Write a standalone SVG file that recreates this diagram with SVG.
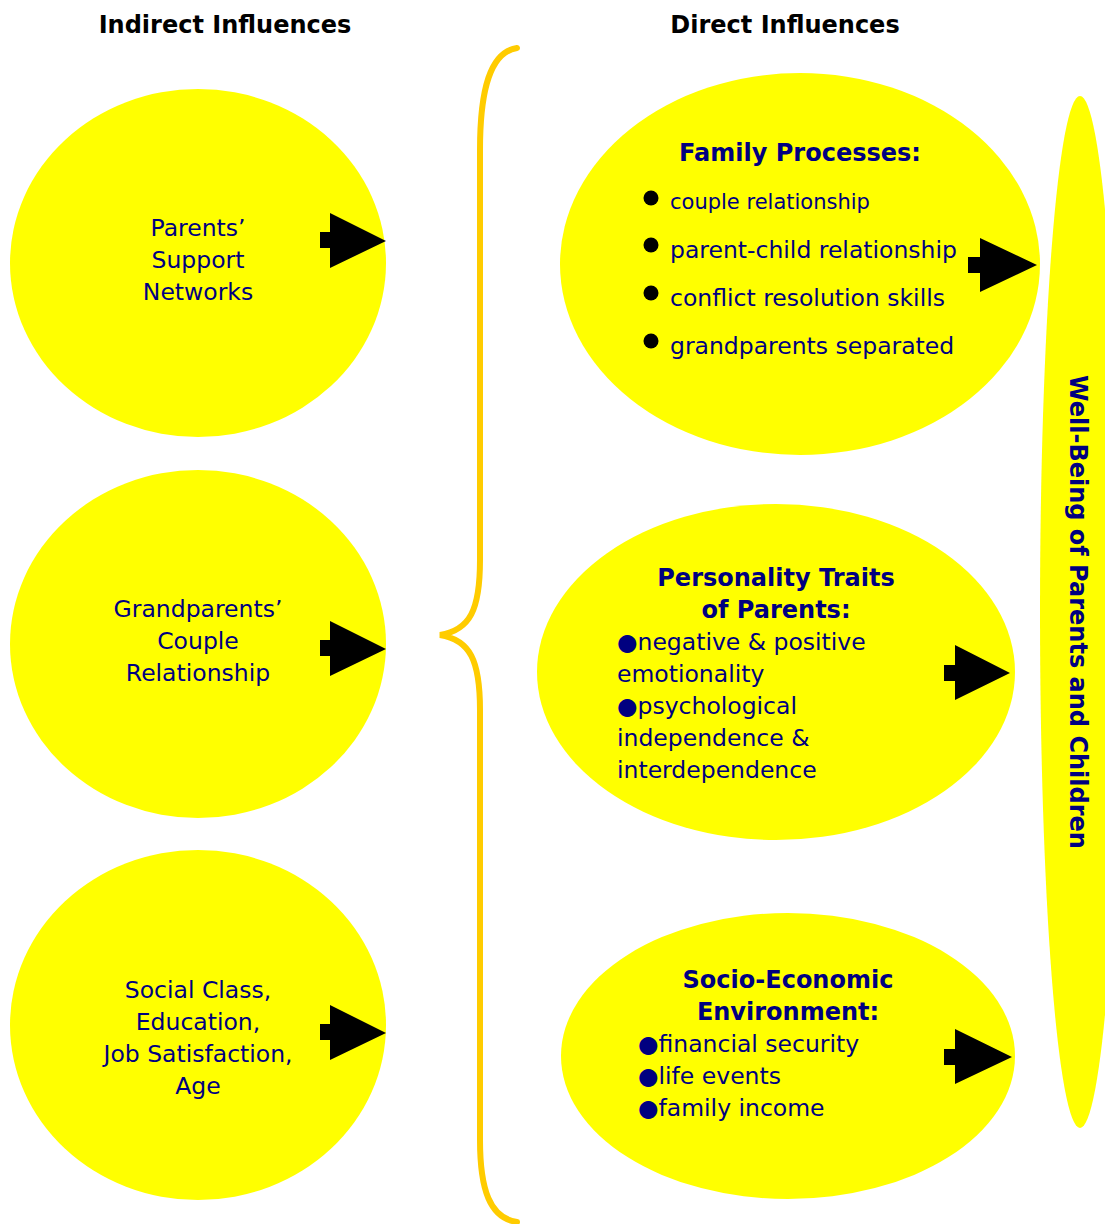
<svg xmlns="http://www.w3.org/2000/svg" width="1105" height="1224" viewBox="0 0 1105 1224">
<style>
.n{fill:#ffff00}
.t{font-family:"DejaVu Sans",Verdana,sans-serif;font-size:23.5px;fill:#000080}
.s{font-size:21px}
.c{text-anchor:middle}
.b{font-weight:bold;font-size:24px}
.h{font-family:"DejaVu Sans",Verdana,sans-serif;font-size:24px;font-weight:bold;fill:#000;text-anchor:middle}
.ar{fill:#000}
</style>
<rect width="1105" height="1224" fill="#fff"/>
<text class="h" x="225" y="33">Indirect Influences</text>
<text class="h" x="785" y="33">Direct Influences</text>

<g id="wellbeing">
<ellipse class="n" cx="1080" cy="612" rx="40" ry="516"/>
<text class="t b c" transform="translate(1070,612) rotate(90)">Well-Being of Parents and Children</text>
</g>

<g id="support">
<ellipse class="n" cx="198" cy="263" rx="188" ry="174"/>
<text class="t c" x="198" y="236">Parents’</text>
<text class="t c" x="198" y="268">Support</text>
<text class="t c" x="198" y="300">Networks</text>
</g>
<g id="grandparents">
<ellipse class="n" cx="198" cy="644" rx="188" ry="174"/>
<text class="t c" x="198" y="617">Grandparents’</text>
<text class="t c" x="198" y="649">Couple</text>
<text class="t c" x="198" y="681">Relationship</text>
</g>
<g id="social">
<ellipse class="n" cx="198" cy="1025" rx="188" ry="175"/>
<text class="t c" x="198" y="998">Social Class,</text>
<text class="t c" x="198" y="1030">Education,</text>
<text class="t c" x="198" y="1062">Job Satisfaction,</text>
<text class="t c" x="198" y="1094">Age</text>
</g>

<g id="family">
<ellipse class="n" cx="800" cy="264" rx="240" ry="191"/>
<text class="t b c" x="800" y="161">Family Processes:</text>
<circle cx="651" cy="198" r="7.5" fill="#000"/>
<circle cx="651" cy="245" r="7.5" fill="#000"/>
<circle cx="651" cy="293" r="7.5" fill="#000"/>
<circle cx="651" cy="341" r="7.5" fill="#000"/>
<text class="t s" x="670" y="209">couple relationship</text>
<text class="t" x="670" y="258">parent-child relationship</text>
<text class="t" x="670" y="306">conflict resolution skills</text>
<text class="t" x="670" y="354">grandparents separated</text>
</g>
<g id="personality">
<ellipse class="n" cx="776" cy="672" rx="239" ry="168"/>
<text class="t b c" x="776" y="586">Personality Traits</text>
<text class="t b c" x="776" y="618">of Parents:</text>
<text class="t" x="617" y="650">●negative &amp; positive</text>
<text class="t" x="617" y="682">emotionality</text>
<text class="t" x="617" y="714">●psychological</text>
<text class="t" x="617" y="746">independence &amp;</text>
<text class="t" x="617" y="778">interdependence</text>
</g>
<g id="socioeconomic">
<ellipse class="n" cx="788" cy="1056" rx="227" ry="143"/>
<text class="t b c" x="788" y="988">Socio-Economic</text>
<text class="t b c" x="788" y="1020">Environment:</text>
<text class="t" x="638" y="1052">●financial security</text>
<text class="t" x="638" y="1084">●life events</text>
<text class="t" x="638" y="1116">●family income</text>
</g>

<g id="connectors">
<path d="M517,48 C490,52 480,90 480,150 L480,560 C480,610 470,630 440,635 C470,640 480,660 480,710 L480,1140 C480,1190 490,1218 517,1222" fill="none" stroke="#ffcc00" stroke-width="6" stroke-linecap="round"/>
<path class="ar" d="M320,232 H330 V213 L386,241 L330,268 V248 H320 Z"/>
<path class="ar" d="M320,640 H330 V621 L386,649 L330,676 V656 H320 Z"/>
<path class="ar" d="M320,1024 H330 V1005 L386,1033 L330,1060 V1040 H320 Z"/>
<path class="ar" d="M968,257 H980 V238 L1037,265 L980,292 V273 H968 Z"/>
<path class="ar" d="M944,665 H955 V645 L1010,673 L955,700 V681 H944 Z"/>
<path class="ar" d="M944,1049 H955 V1029 L1012,1057 L955,1084 V1065 H944 Z"/>
</g>
</svg>
